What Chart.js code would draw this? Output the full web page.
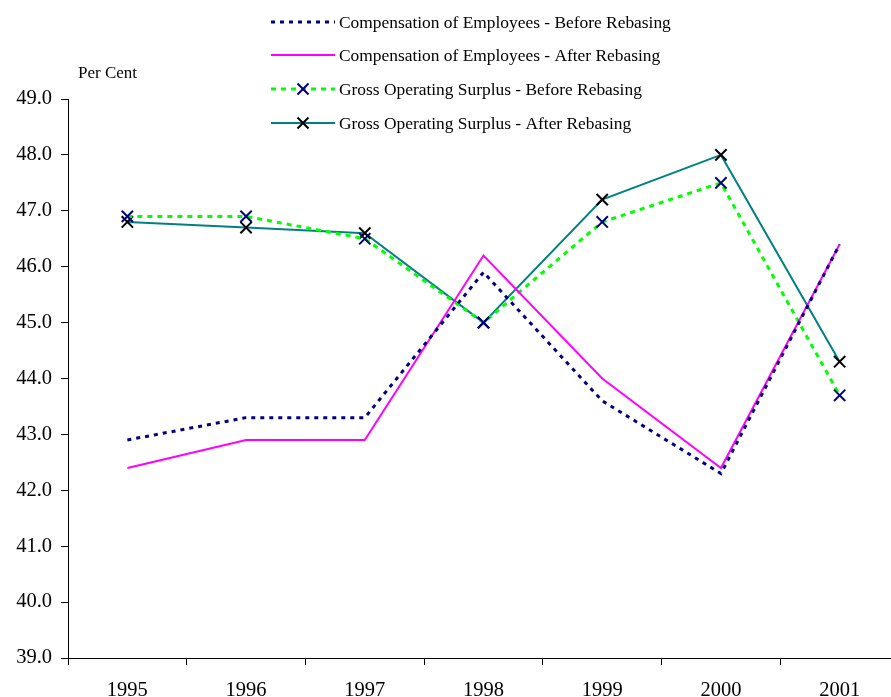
<!DOCTYPE html>
<html>
<head>
<meta charset="utf-8">
<script src="https://cdn.jsdelivr.net/npm/chart.js@4/dist/chart.umd.min.js"></script>
<style>
  html, body { margin: 0; padding: 0; background: #fff; overflow: hidden; }
  #wrap { width: 920px; height: 697px; }
</style>
</head>
<body>
<div id="wrap"><canvas id="c" width="909" height="697"></canvas></div>
<script>
const years = ['1995', '1996', '1997', '1998', '1999', '2000', '2001'];
const compBefore = [42.9, 43.3, 43.3, 45.9, 43.6, 42.3, 46.4];
const compAfter  = [42.4, 42.9, 42.9, 46.2, 44.0, 42.4, 46.4];
const gosBefore  = [46.9, 46.9, 46.5, 45.0, 46.8, 47.5, 43.7];
const gosAfter   = [46.8, 46.7, 46.6, 45.0, 47.2, 48.0, 44.3];
const seriesNames = [
  'Compensation of Employees - Before Rebasing',
  'Compensation of Employees - After Rebasing',
  'Gross Operating Surplus - Before Rebasing',
  'Gross Operating Surplus - After Rebasing'
];
const yAxisTitle = 'Per Cent';

const FONT = '"Liberation Serif", "Times New Roman", serif';
const FS = 17.4;
const AXFS = 20.5;

const legendPlugin = {
  id: 'customLegend',
  afterDraw(chart) {
    const ctx = chart.ctx;
    ctx.save();
    ctx.font = '17px ' + FONT;
    ctx.fillStyle = '#000';
    ctx.textBaseline = 'middle';
    ctx.textAlign = 'left';
    ctx.fillText(yAxisTitle, 78, 74);
    const rows = [22, 55, 89, 123];
    chart.data.datasets.forEach((ds, i) => {
      const y = rows[i];
      ctx.save();
      ctx.strokeStyle = ds.borderColor;
      ctx.lineWidth = ds.borderWidth;
      ctx.setLineDash(ds.borderDash || []);
      ctx.beginPath();
      ctx.moveTo(271, y);
      ctx.lineTo(335, y);
      ctx.stroke();
      ctx.restore();
      if (ds.pointRadius > 0) {
        const r = 5.5;
        const cx = 303;
        ctx.save();
        ctx.strokeStyle = ds.pointBorderColor;
        ctx.lineWidth = ds.pointBorderWidth;
        ctx.setLineDash([]);
        ctx.beginPath();
        ctx.moveTo(cx - r, y - r); ctx.lineTo(cx + r, y + r);
        ctx.moveTo(cx - r, y + r); ctx.lineTo(cx + r, y - r);
        ctx.stroke();
        ctx.restore();
      }
      ctx.fillStyle = '#000';
      ctx.font = FS + 'px ' + FONT;
      ctx.textBaseline = 'middle';
      ctx.fillText(ds.label, 339, y + 1);
    });
    ctx.restore();
  }
};

new Chart(document.getElementById('c'), {
  type: 'line',
  data: {
    labels: years,
    datasets: [
      { label: seriesNames[0], data: compBefore, borderColor: '#000080', borderWidth: 3, borderDash: [4, 5],
        pointRadius: 0, fill: false, tension: 0 },
      { label: seriesNames[1], data: compAfter, borderColor: '#FF00FF', borderWidth: 2,
        pointRadius: 0, fill: false, tension: 0 },
      { label: seriesNames[2], data: gosBefore, borderColor: '#00FF00', borderWidth: 3, borderDash: [5, 5],
        pointStyle: 'crossRot', pointRadius: 8, pointBorderColor: '#000080', pointBorderWidth: 2,
        pointBackgroundColor: '#000080', fill: false, tension: 0 },
      { label: seriesNames[3], data: gosAfter, borderColor: '#008080', borderWidth: 2,
        pointStyle: 'crossRot', pointRadius: 8, pointBorderColor: '#000000', pointBorderWidth: 2,
        pointBackgroundColor: '#000000', fill: false, tension: 0 }
    ]
  },
  options: {
    responsive: false,
    animation: false,
    layout: { padding: { top: 99, left: 0, right: 0, bottom: 0 } },
    plugins: { legend: { display: false }, tooltip: { enabled: false } },
    scales: {
      x: {
        offset: true,
        grid: { offset: true, drawOnChartArea: false, tickLength: 7, color: '#000', lineWidth: 1 },
        border: { display: true, color: '#000', width: 1 },
        ticks: { color: '#000', font: { family: FONT, size: AXFS }, padding: 13, maxRotation: 0 },
        afterFit(scale) { scale.height = 39; }
      },
      y: {
        min: 39, max: 49,
        grid: { drawOnChartArea: false, tickLength: 7, color: '#000', lineWidth: 1 },
        border: { display: true, color: '#000', width: 1 },
        ticks: { stepSize: 1, color: '#000', font: { family: FONT, size: AXFS }, padding: 9,
          callback: v => Number(v).toFixed(1) },
        afterFit(scale) { scale.width = 68; }
      }
    }
  },
  plugins: [legendPlugin]
});
</script>
</body>
</html>
